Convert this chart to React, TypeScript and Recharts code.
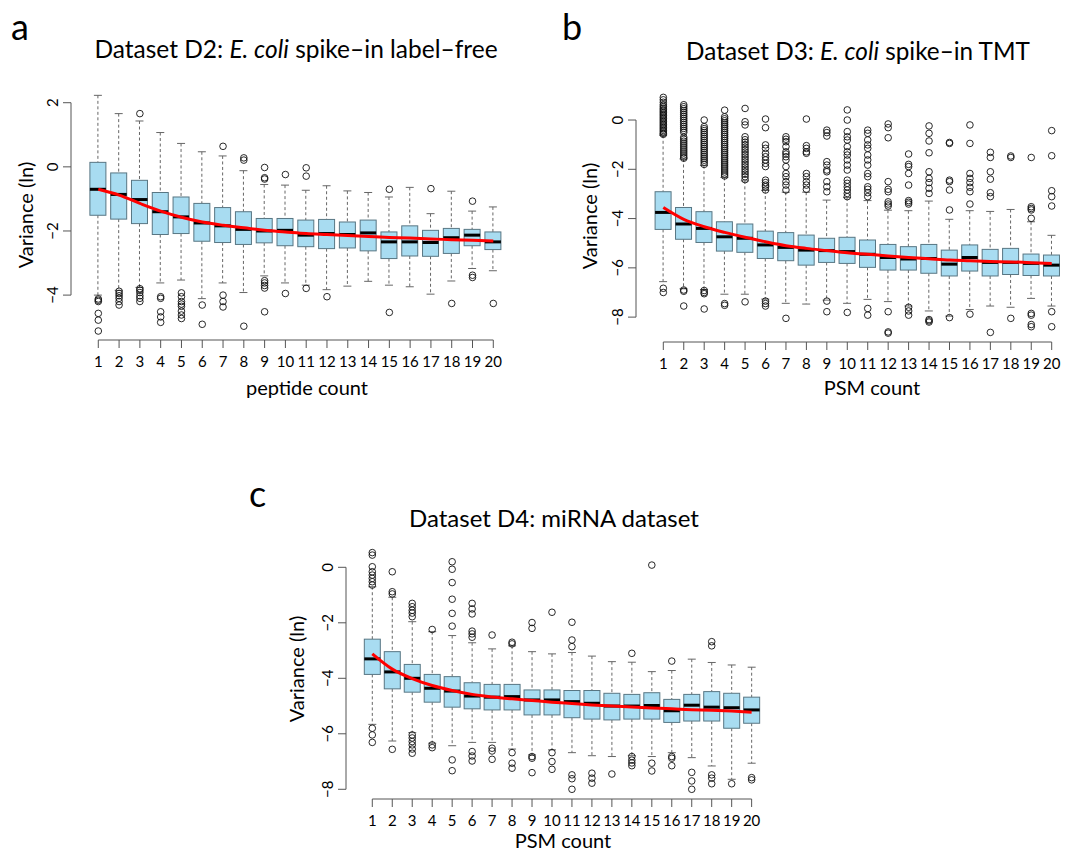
import { ComposedChart, Bar, Line, Scatter, XAxis, YAxis, ReferenceLine } from "recharts";

const FONT = "Lato, 'Open Sans', sans-serif";
const AXIS = "#555";
const BOX_FILL = "#a8dcf1";
const BOX_STROKE = "#587683";
const WHISKER = "#666";

// peptide / PSM counts on the x axis
const COUNTS = [1, 2, 3, 4, 5, 6, 7, 8, 9, 10, 11, 12, 13, 14, 15, 16, 17, 18, 19, 20];

// ---- panel a: D2 E. coli spike-in label-free
const loA = [-4.0, -3.85, -3.76, -3.62, -3.53, -4.11, -3.62, -3.92, -3.4, -3.62, -3.69, -3.83, -3.72, -3.57, -3.69, -3.74, -3.97, -3.56, -3.17, -3.24];
const q1A = [-1.51, -1.63, -1.77, -2.11, -2.08, -2.32, -2.36, -2.42, -2.37, -2.46, -2.49, -2.55, -2.53, -2.62, -2.86, -2.78, -2.79, -2.7, -2.46, -2.58];
const medA = [-0.7, -0.86, -1.02, -1.4, -1.56, -1.75, -1.84, -1.95, -2.0, -1.98, -2.13, -2.08, -2.11, -2.06, -2.34, -2.34, -2.36, -2.21, -2.13, -2.34];
const q3A = [0.14, -0.19, -0.42, -0.8, -0.94, -1.14, -1.27, -1.4, -1.61, -1.61, -1.66, -1.64, -1.72, -1.66, -2.03, -1.84, -1.98, -1.92, -1.95, -2.03];
const hiA = [2.23, 1.66, 1.43, 1.07, 0.73, 0.47, 0.34, -0.12, -0.55, -0.57, -0.73, -0.59, -0.75, -0.8, -0.94, -0.64, -1.46, -0.76, -1.38, -1.25];
const fitA = [-0.7, -0.88, -1.14, -1.38, -1.57, -1.72, -1.82, -1.9, -1.98, -2.03, -2.08, -2.11, -2.14, -2.17, -2.2, -2.22, -2.25, -2.27, -2.29, -2.31];
const outA = [
  [-4.12, -4.16, -4.2, -4.57, -4.78, -5.12],
  [-3.88, -3.95, -4.02, -4.1, -4.2, -4.31],
  [1.66, -3.8, -3.85, -3.92, -4.02, -4.1, -4.2],
  [-4.05, -4.1, -4.52, -4.68, -4.85],
  [-3.93, -4.05, -4.2, -4.28, -4.35, -4.5, -4.62, -4.73],
  [-4.31, -4.91],
  [0.64, -4.0, -4.2, -4.37],
  [0.28, 0.21, -4.97],
  [-0.02, -0.34, -0.38, -3.55, -3.62, -3.7, -3.78, -4.52],
  [-0.24, -3.95],
  [-0.03, -0.29, -3.79],
  [-4.05],
  [],
  [],
  [-0.7, -4.54],
  [],
  [-0.68],
  [-4.26],
  [-1.07, -3.38, -3.45],
  [-4.26],
];

// ---- panel b: D3 E. coli spike-in TMT
const loB = [-6.56, -6.85, -6.88, -7.07, -7.07, -7.27, -7.44, -7.47, -7.31, -7.44, -7.28, -7.37, -7.55, -7.75, -7.96, -7.69, -7.55, -7.6, -7.24, -7.55];
const q1B = [-4.44, -4.84, -4.97, -5.32, -5.37, -5.62, -5.71, -5.89, -5.78, -5.82, -5.98, -6.09, -6.09, -6.22, -6.33, -6.13, -6.33, -6.27, -6.31, -6.33];
const medB = [-3.75, -4.22, -4.4, -4.74, -4.8, -5.07, -5.17, -5.28, -5.3, -5.34, -5.45, -5.58, -5.64, -5.62, -5.85, -5.58, -5.78, -5.78, -5.82, -5.89];
const q3B = [-2.91, -3.55, -3.72, -4.13, -4.22, -4.51, -4.57, -4.67, -4.8, -4.76, -4.87, -5.05, -5.14, -5.05, -5.28, -5.07, -5.25, -5.21, -5.44, -5.48];
const hiB = [-0.62, -1.58, -1.85, -2.33, -2.47, -2.86, -2.93, -2.93, -3.25, -3.15, -3.27, -3.66, -3.68, -3.29, -4.03, -3.68, -3.71, -3.63, -4.13, -4.68];
const fitB = [-3.55, -4.03, -4.33, -4.56, -4.76, -4.94, -5.1, -5.21, -5.3, -5.39, -5.45, -5.52, -5.58, -5.63, -5.68, -5.71, -5.74, -5.76, -5.79, -5.82];
const outB = [
  [0.92, 0.82, 0.72, 0.62, 0.55, 0.48, 0.42, 0.36, 0.3, 0.24, 0.18, 0.12, 0.06, 0.0, -0.06, -0.12, -0.18, -0.24, -0.3, -0.36, -0.42, -0.48, -0.54, -0.58, -6.83, -7.0],
  [0.62, 0.54, 0.46, 0.38, 0.3, 0.22, 0.14, 0.06, -0.02, -0.1, -0.18, -0.26, -0.34, -0.42, -0.5, -0.7, -0.78, -0.86, -0.94, -1.02, -1.1, -1.18, -1.26, -1.34, -1.42, -1.5, -1.55, -6.9, -6.95, -7.55],
  [0.0, -0.27, -0.35, -0.43, -0.51, -0.59, -0.67, -0.75, -0.83, -0.91, -0.99, -1.07, -1.15, -1.23, -1.31, -1.39, -1.47, -1.55, -1.63, -1.71, -1.8, -6.92, -7.0, -7.05, -7.67],
  [0.4, 0.13, 0.05, -0.03, -0.11, -0.19, -0.27, -0.35, -0.43, -0.51, -0.59, -0.67, -0.75, -0.83, -0.91, -0.99, -1.07, -1.15, -1.23, -1.31, -1.39, -1.47, -1.55, -1.63, -1.71, -1.79, -1.87, -1.95, -2.03, -2.11, -2.19, -2.27, -7.45, -7.52],
  [0.47, -0.07, -0.2, -0.68, -0.8, -0.9, -1.0, -1.1, -1.2, -1.3, -1.4, -1.5, -1.6, -1.7, -1.8, -1.9, -2.0, -2.1, -2.2, -2.3, -2.42, -7.38],
  [0.04, -0.31, -1.01, -1.15, -1.35, -1.49, -1.62, -1.76, -1.89, -2.44, -2.54, -2.64, -2.71, -2.84, -7.35, -7.45, -7.55],
  [-0.68, -0.78, -0.88, -1.08, -1.29, -1.38, -1.49, -1.62, -1.89, -2.17, -2.3, -2.5, -2.64, -2.84, -8.05],
  [0.04, -1.04, -1.15, -1.29, -1.35, -2.17, -2.3, -2.5, -2.64, -2.81],
  [-0.41, -0.51, -0.65, -1.69, -1.83, -2.03, -2.1, -2.5, -2.71, -2.91, -7.35, -7.78],
  [0.41, 0.0, -0.47, -0.68, -0.81, -1.08, -1.29, -1.42, -1.62, -1.83, -2.03, -2.44, -2.57, -2.71, -2.84, -2.98, -3.11, -7.81],
  [-0.41, -0.54, -0.81, -1.01, -1.15, -1.42, -1.62, -1.83, -2.17, -2.3, -2.71, -2.81, -2.95, -3.11, -7.65, -7.92],
  [-0.16, -0.31, -0.72, -2.5, -2.81, -2.91, -3.32, -3.41, -3.49, -7.78, -8.6, -8.65],
  [-1.38, -1.8, -1.89, -2.17, -2.64, -3.27, -3.34, -3.41, -7.6, -7.75, -7.92],
  [-0.24, -0.54, -0.85, -1.33, -2.1, -2.37, -2.54, -2.77, -2.98, -8.1, -8.15, -8.2],
  [-0.91, -0.95, -2.44, -2.5, -2.84, -3.65, -8.02],
  [-0.2, -0.95, -2.17, -2.37, -2.54, -2.73, -2.91, -3.41, -7.88],
  [-1.31, -1.52, -2.1, -2.4, -2.95, -3.11, -8.62],
  [-1.46, -1.52, -8.05],
  [-1.52, -3.52, -3.59, -3.65, -3.99, -7.85, -7.92, -8.3, -8.39],
  [-0.43, -1.45, -2.87, -3.11, -3.49, -7.78, -8.39],
];

// ---- panel c: D4 miRNA dataset
const loC = [-5.66, -6.26, -5.96, -6.34, -6.43, -6.31, -6.31, -6.55, -6.76, -6.58, -6.68, -6.79, -6.82, -6.79, -6.82, -6.68, -6.86, -7.16, -7.64, -7.06];
const q1C = [-3.86, -4.38, -4.5, -4.86, -5.04, -5.1, -5.14, -5.14, -5.32, -5.32, -5.42, -5.47, -5.5, -5.47, -5.47, -5.59, -5.54, -5.54, -5.8, -5.62];
const medC = [-3.3, -3.77, -4.0, -4.36, -4.46, -4.64, -4.68, -4.66, -4.78, -4.78, -4.84, -4.9, -5.0, -5.0, -4.98, -5.17, -4.97, -5.04, -5.06, -5.14];
const q3C = [-2.59, -3.04, -3.5, -3.86, -3.94, -4.16, -4.22, -4.22, -4.42, -4.42, -4.44, -4.44, -4.54, -4.58, -4.52, -4.76, -4.58, -4.48, -4.54, -4.68];
const hiC = [-0.7, -1.08, -1.96, -2.32, -2.46, -2.72, -2.94, -2.83, -3.04, -3.12, -3.07, -3.2, -3.4, -3.42, -3.76, -3.72, -3.31, -3.43, -3.52, -3.6];
const fitC = [-3.12, -3.67, -4.01, -4.26, -4.44, -4.58, -4.67, -4.74, -4.8, -4.86, -4.91, -4.96, -5.0, -5.03, -5.07, -5.1, -5.13, -5.15, -5.18, -5.22];
const outC = [
  [0.53, 0.44, 0.02, -0.16, -0.28, -0.4, -0.52, -0.64, -5.8, -6.04, -6.31],
  [-0.16, -0.88, -0.96, -6.56],
  [-1.3, -1.42, -1.55, -1.65, -1.78, -6.04, -6.15, -6.28, -6.4, -6.55, -6.7],
  [-2.24, -6.4, -6.5],
  [0.2, -0.07, -0.55, -1.15, -1.66, -2.12, -6.94, -7.33],
  [-1.3, -1.5, -1.68, -2.3, -2.4, -2.52, -6.64, -6.8, -6.98],
  [-2.44, -6.52, -6.62, -6.92],
  [-2.7, -2.76, -6.68, -7.06, -7.24],
  [-1.99, -2.2, -6.82, -6.88, -7.4],
  [-1.62, -6.68, -7.0, -7.28],
  [-1.98, -2.62, -2.86, -7.48, -7.62, -8.0],
  [-7.42, -7.6, -7.78],
  [-7.45],
  [-3.1, -6.82, -6.95, -7.05, -7.15],
  [0.08, -7.06, -7.34],
  [-3.38, -6.82, -6.88, -7.15],
  [-7.39, -7.7, -8.0],
  [-2.68, -2.83, -7.48, -7.6, -7.8],
  [-7.8],
  [-7.58, -7.66],
];

const rows = (lo: number[], q1: number[], med: number[], q3: number[], hi: number[], fit: number[]) =>
  COUNTS.map((c, i) => ({ x: c, lo: lo[i], q1: q1[i], med: med[i], q3: q3[i], hi: hi[i], fit: fit[i] }));

const points = (out: number[][]) => out.flatMap((vals, i) => vals.map((v) => ({ x: COUNTS[i], y: v })));

const fmt = (v: number) => (v < 0 ? "\u2212" + Math.abs(v) : String(v));

function BoxShape(props: any) {
  const { x, y, width, height, payload } = props;
  if (!payload) return null;
  const top = Math.min(y, y + height);
  const bot = Math.max(y, y + height);
  const { lo, hi, q1, q3, med } = payload;
  const py = (v: number) => bot - ((v - lo) / (hi - lo)) * (bot - top);
  const cx = x + width / 2;
  const cw = width / 4;
  return (
    <g>
      <line x1={cx} x2={cx} y1={py(hi)} y2={py(q3)} stroke={WHISKER} strokeDasharray="3 2.5" />
      <line x1={cx} x2={cx} y1={py(q1)} y2={py(lo)} stroke={WHISKER} strokeDasharray="3 2.5" />
      <line x1={cx - cw} x2={cx + cw} y1={py(hi)} y2={py(hi)} stroke={WHISKER} />
      <line x1={cx - cw} x2={cx + cw} y1={py(lo)} y2={py(lo)} stroke={WHISKER} />
      <rect x={x} y={py(q3)} width={width} height={py(q1) - py(q3)} fill={BOX_FILL} stroke={BOX_STROKE} strokeWidth={1} />
      <line x1={x} x2={x + width} y1={py(med)} y2={py(med)} stroke="#000" strokeWidth={3} />
    </g>
  );
}

const Dot = (p: any) => <circle cx={p.cx} cy={p.cy} r={3.3} fill="none" stroke="#111" strokeWidth={0.9} />;

const YTick = (p: any) => (
  <text
    x={p.x}
    y={p.y}
    transform={`rotate(-90 ${p.x} ${p.y})`}
    textAnchor="middle"
    dy="0.35em"
    fontSize={15}
    fill="#000"
    fontFamily={FONT}
  >
    {fmt(p.payload.value)}
  </text>
);

interface PanelProps {
  data: any[];
  out: any[];
  width: number;
  height: number;
  top: number;
  right: number;
  yWidth: number;
  xHeight: number;
  xDomain: [number, number];
  yDomain: [number, number];
  yTicks: number[];
}

function Panel(p: PanelProps) {
  return (
    <ComposedChart
      width={p.width}
      height={p.height}
      data={p.data}
      margin={{ top: p.top, right: p.right, bottom: 0, left: 0 }}
    >
      <XAxis
        type="number"
        dataKey="x"
        domain={p.xDomain}
        ticks={COUNTS}
        interval={0}
        allowDataOverflow
        height={p.xHeight}
        axisLine={false}
        tickLine={{ stroke: AXIS }}
        tickSize={8}
        tickMargin={8}
        tick={{ fontSize: 15, fill: "#000", fontFamily: FONT }}
      />
      <YAxis
        type="number"
        domain={p.yDomain}
        ticks={p.yTicks}
        interval={0}
        allowDataOverflow
        width={p.yWidth}
        axisLine={false}
        tickLine={{ stroke: AXIS }}
        tickSize={8}
        tickMargin={10}
        tick={(t: any) => <YTick {...t} />}
      />
      <ReferenceLine
        segment={[
          { x: p.xDomain[0], y: p.yTicks[0] },
          { x: p.xDomain[0], y: p.yTicks[p.yTicks.length - 1] },
        ]}
        stroke={AXIS}
        ifOverflow="visible"
      />
      <ReferenceLine
        segment={[
          { x: COUNTS[0], y: p.yDomain[0] },
          { x: COUNTS[COUNTS.length - 1], y: p.yDomain[0] },
        ]}
        stroke={AXIS}
        ifOverflow="visible"
      />
      <Bar dataKey={(d: any) => [d.lo, d.hi]} barSize={16} shape={BoxShape} isAnimationActive={false} />
      <Scatter data={p.out} dataKey="y" shape={Dot} isAnimationActive={false} />
      <Line dataKey="fit" type="monotone" stroke="#ff0000" strokeWidth={3} dot={false} activeDot={false} isAnimationActive={false} />
    </ComposedChart>
  );
}

const txt = { fontFamily: FONT, fill: "#000" };

export default function App() {
  return (
    <div style={{ position: "absolute", left: 0, top: 0, width: 1088, height: 852, background: "#fff", overflow: "hidden" }}>
      <div style={{ position: "absolute", left: 0, top: 0 }}>
        <Panel
          data={rows(loA, q1A, medA, q3A, hiA, fitA)}
          out={points(outA)}
          width={540}
          height={400}
          top={87}
          right={25}
          yWidth={71}
          xHeight={60}
          xDomain={[-0.313, 21.044]}
          yDomain={[-5.4, 2.49]}
          yTicks={[-4, -2, 0, 2]}
        />
      </div>
      <div style={{ position: "absolute", left: 560, top: 0 }}>
        <Panel
          data={rows(loB, q1B, medB, q3B, hiB, fitB)}
          out={points(outB)}
          width={528}
          height={400}
          top={88}
          right={13}
          yWidth={76}
          xHeight={58}
          xDomain={[-0.336, 21.14]}
          yDomain={[-9.01, 1.3]}
          yTicks={[-8, -6, -4, -2, 0]}
        />
      </div>
      <div style={{ position: "absolute", left: 270, top: 450 }}>
        <Panel
          data={rows(loC, q1C, medC, q3C, hiC, fitC)}
          out={points(outC)}
          width={505}
          height={400}
          top={93}
          right={0}
          yWidth={76}
          xHeight={51}
          xDomain={[-0.317, 21.17]}
          yDomain={[-8.35, 0.876]}
          yTicks={[-8, -6, -4, -2, 0]}
        />
      </div>
      <svg width={1088} height={852} style={{ position: "absolute", left: 0, top: 0, pointerEvents: "none" }}>
        <text x={11} y={40} fontSize={36} {...txt}>a</text>
        <text x={562} y={40} fontSize={36} {...txt}>b</text>
        <text x={249} y={507} fontSize={36} {...txt}>c</text>

        <text x={296} y={58} fontSize={24.5} textAnchor="middle" {...txt}>
          Dataset D2: <tspan fontStyle="italic">E. coli</tspan> spike{"\u2013"}in label{"\u2013"}free
        </text>
        <text x={858} y={60} fontSize={24.3} textAnchor="middle" {...txt}>
          Dataset D3: <tspan fontStyle="italic">E. coli</tspan> spike{"\u2013"}in TMT
        </text>
        <text x={554} y={527} fontSize={24} textAnchor="middle" {...txt}>
          Dataset D4: miRNA dataset
        </text>

        <text x={33} y={215} fontSize={20} textAnchor="middle" transform="rotate(-90 33 215)" {...txt}>Variance (ln)</text>
        <text x={597} y={216} fontSize={20} textAnchor="middle" transform="rotate(-90 597 216)" {...txt}>Variance (ln)</text>
        <text x={304} y={669} fontSize={20} textAnchor="middle" transform="rotate(-90 304 669)" {...txt}>Variance (ln)</text>

        <text x={307} y={395} fontSize={20} textAnchor="middle" {...txt}>peptide count</text>
        <text x={872} y={395} fontSize={20} textAnchor="middle" {...txt}>PSM count</text>
        <text x={563} y={848} fontSize={20} textAnchor="middle" {...txt}>PSM count</text>
      </svg>
    </div>
  );
}
